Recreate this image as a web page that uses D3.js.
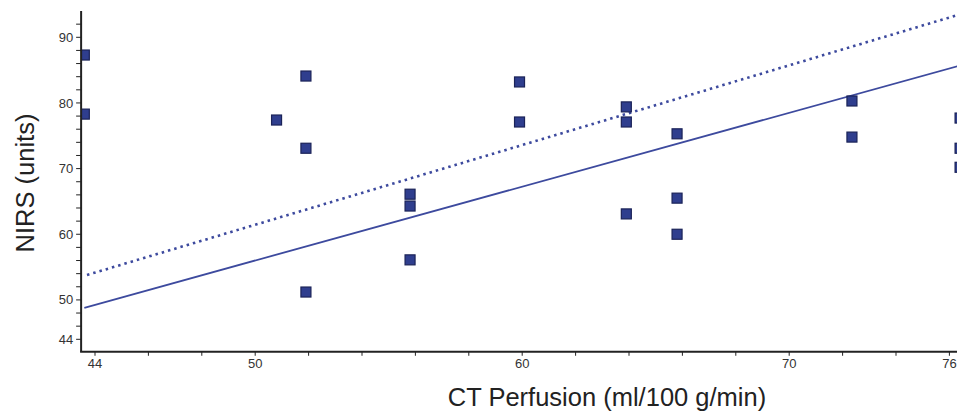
<!DOCTYPE html>
<html>
<head>
<meta charset="utf-8">
<script src="https://cdn.jsdelivr.net/npm/d3@7"></script>
<style>
  html, body { margin: 0; padding: 0; background: #fff; }
  svg { display: block; }
  text { font-family: "Liberation Sans", Arial, Helvetica, sans-serif; }
</style>
</head>
<body>
<svg id="chart" width="957" height="413"></svg>
<script>
// ---- data ----
const ctPerfusion = [43.6, 43.6, 50.8, 51.9, 51.9, 51.9, 55.8, 55.8, 55.8, 59.9, 59.9, 63.9, 63.9, 63.9, 65.8, 65.8, 65.8, 72.35, 72.35, 76.4, 76.4, 76.4];
const nirs        = [87.3, 78.3, 77.4, 84.1, 73.1, 51.2, 66.1, 64.3, 56.1, 83.2, 77.1, 79.4, 77.1, 63.1, 75.3, 65.5, 60.0, 80.3, 74.8, 77.7, 73.1, 70.2];
const solidLineX  = [43.6, 76.4];
const solidLineY  = [48.8, 85.7];
const dottedLineX = [43.7, 76.4];
const dottedLineY = [53.8, 93.5];
const xTickLabels = [44, 50, 60, 70, 76];
const yTickLabels = [44, 50, 60, 70, 80, 90];
const xMinorTicks = d3.range(44, 77, 2);
const yMinorTicks = d3.range(44, 93, 2);

// ---- scales ----
const x = d3.scaleLinear().domain([44, 76]).range([95, 949.4]);
const y = d3.scaleLinear().domain([44, 90]).range([339.3, 37.3]);
const xMin = 43.48, xMax = 76.4;
const yMin = 42.1, yMax = 94;

const svg = d3.select("#chart");
const markColor = "#2f3e8e";
const lineColor = "#3d4a9e";

// clip for plot area
svg.append("defs").append("clipPath").attr("id", "plot")
  .append("rect")
  .attr("x", x(xMin)).attr("y", y(yMax))
  .attr("width", 957 - x(xMin)).attr("height", y(yMin) - y(yMax));

const plot = svg.append("g").attr("clip-path", "url(#plot)");

// regression lines
const line = d3.line().x(d => x(d[0])).y(d => y(d[1]));
plot.append("path")
  .datum(dottedLineX.map((v, i) => [v, dottedLineY[i]]))
  .attr("d", line)
  .attr("fill", "none")
  .attr("stroke", lineColor)
  .attr("stroke-width", 2.6)
  .attr("stroke-dasharray", "2.5,4");
plot.append("path")
  .datum(solidLineX.map((v, i) => [v, solidLineY[i]]))
  .attr("d", line)
  .attr("fill", "none")
  .attr("stroke", lineColor)
  .attr("stroke-width", 1.8);

// points
const sz = 10;
plot.selectAll("rect.pt")
  .data(ctPerfusion.map((v, i) => [v, nirs[i]]))
  .enter().append("rect")
  .attr("class", "pt")
  .attr("x", d => x(d[0]) - sz / 2)
  .attr("y", d => y(d[1]) - sz / 2)
  .attr("width", sz).attr("height", sz)
  .attr("fill", markColor)
  .attr("stroke", "#1b2358")
  .attr("stroke-width", 1.2);

// ---- axes ----
const axisColor = "#222";
// y axis
const yAxisG = svg.append("g").attr("transform", `translate(${x(xMin)},0)`);
yAxisG.append("line")
  .attr("x1", 0).attr("x2", 0)
  .attr("y1", y(yMin)).attr("y2", y(yMax))
  .attr("stroke", axisColor).attr("stroke-width", 2);
yAxisG.selectAll("line.minor").data(yMinorTicks).enter().append("line")
  .attr("class", "minor")
  .attr("x1", -5).attr("x2", 0)
  .attr("y1", d => y(d)).attr("y2", d => y(d))
  .attr("stroke", axisColor).attr("stroke-width", 1);
yAxisG.selectAll("text").data(yTickLabels).enter().append("text")
  .attr("x", -8).attr("y", d => y(d))
  .attr("dy", "0.35em")
  .attr("text-anchor", "end")
  .attr("font-size", 13)
  .attr("fill", "#333")
  .text(d => d);

// x axis
const xAxisG = svg.append("g").attr("transform", `translate(0,${y(yMin)})`);
xAxisG.append("line")
  .attr("x1", x(xMin) - 1).attr("x2", 957)
  .attr("y1", 0).attr("y2", 0)
  .attr("stroke", axisColor).attr("stroke-width", 2.2);
xAxisG.selectAll("line.minor").data(xMinorTicks).enter().append("line")
  .attr("class", "minor")
  .attr("x1", d => x(d)).attr("x2", d => x(d))
  .attr("y1", 0).attr("y2", 4)
  .attr("stroke", axisColor).attr("stroke-width", 1);
xAxisG.selectAll("text").data(xTickLabels).enter().append("text")
  .attr("x", d => x(d)).attr("y", 16)
  .attr("text-anchor", "middle")
  .attr("font-size", 13)
  .attr("fill", "#333")
  .text(d => d);

// titles
svg.append("text")
  .attr("transform", "translate(34,183) rotate(-90)")
  .attr("text-anchor", "middle")
  .attr("font-size", 25.5)
  .attr("fill", "#222")
  .text("NIRS (units)");
svg.append("text")
  .attr("x", 607).attr("y", 406)
  .attr("text-anchor", "middle")
  .attr("font-size", 25.5)
  .attr("fill", "#222")
  .text("CT Perfusion (ml/100 g/min)");
</script>
</body>
</html>
